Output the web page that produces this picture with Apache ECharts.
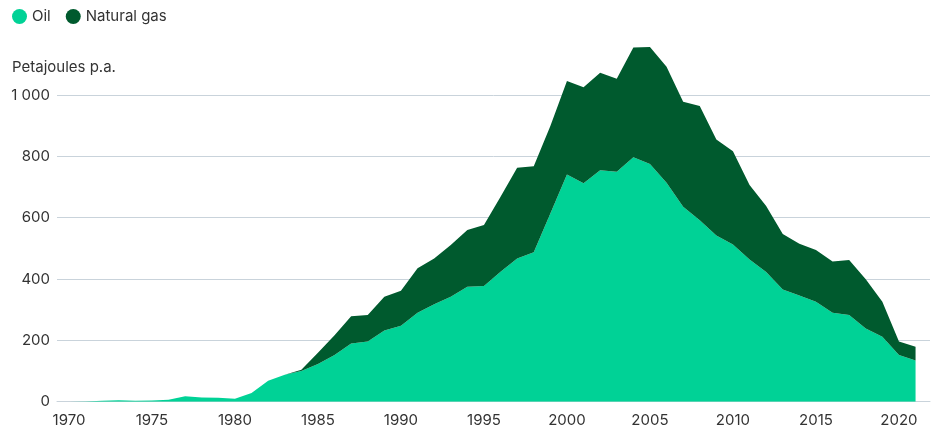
<!DOCTYPE html>
<html>
<head>
<meta charset="utf-8">
<script src="https://cdn.jsdelivr.net/npm/echarts@6/dist/echarts.min.js"></script>
<style>
  html, body { margin: 0; padding: 0; background: #fff; }
  #chart { width: 933px; height: 432px; }
</style>
</head>
<body>
<div id="chart"></div>
<script>
// years 1970..2021
var years = [];
for (var y = 1970; y <= 2021; y++) years.push(y);

// Petajoules p.a.
var oil = [0, 1, 3, 5, 3, 4, 6, 18, 14, 13, 10, 28, 68, 88, 100,
  123, 152, 190, 196, 232, 248, 290, 318, 342, 375,
  377, 424, 467, 487, 614, 741, 712, 755, 750, 797,
  775, 714, 636, 592, 542, 513, 464, 423, 366, 346,
  326, 290, 283, 239, 212, 152, 134];
var gas = [0, 0, 0, 0, 0, 0, 0, 0, 0, 0, 0, 0, 0, 0, 4,
  37, 65, 89, 87, 110, 114, 145, 149, 169, 185,
  199, 244, 296, 281, 285, 305, 313, 318, 303, 358,
  382, 378, 342, 372, 313, 304, 243, 215, 181, 169,
  169, 167, 179, 160, 114, 44, 45];

var tickYears = [1970, 1975, 1980, 1985, 1990, 1995, 2000, 2005, 2010, 2015, 2020];

var textColor = '#333';
var gridColor = '#c9d3db';
var font = 'Inter';

// value first, year second: the stack takes the first value column,
// so with a value x axis it has to be the petajoules
function rows(vals) {
  return years.map(function (yr, i) { return [vals[i], yr]; });
}

var chart = echarts.init(document.getElementById('chart'));

var option = {
  animation: false,
  textStyle: { fontFamily: font },
  legend: {
    left: 12,
    top: 9,
    padding: 0,
    itemGap: 15,
    itemWidth: 15,
    itemHeight: 15,
    icon: 'circle',
    textStyle: { fontFamily: font, fontSize: 15, color: textColor },
    data: ['Oil', 'Natural gas']
  },
  title: {
    text: 'Petajoules p.a.',
    left: 12,
    top: 60,
    padding: 0,
    textStyle: { fontFamily: font, fontSize: 15, fontWeight: 'normal', color: textColor }
  },
  grid: { left: 57, right: 3, top: 33.7, bottom: 30.3 },
  xAxis: {
    type: 'value',
    min: 1969.28,
    max: 2021.87,
    axisLine: { show: true, lineStyle: { color: gridColor, width: 1 } },
    axisTick: { show: false },
    splitLine: { show: false },
    axisLabel: {
      customValues: tickYears,
      margin: 11,
      color: textColor,
      fontFamily: font,
      fontSize: 15,
      formatter: function (v) { return String(v); }
    }
  },
  yAxis: {
    type: 'value',
    min: 0,
    max: 1200,
    interval: 200,
    axisLine: { show: false },
    axisTick: { show: false },
    splitLine: { show: true, showMaxLine: false, lineStyle: { color: gridColor, width: 1 } },
    axisLabel: {
      showMaxLabel: false,
      margin: 7,
      color: textColor,
      fontFamily: font,
      fontSize: 15,
      formatter: function (v) {
        return String(v).replace(/\B(?=(\d{3})+(?!\d))/g, ' ');
      }
    }
  },
  series: [
    {
      name: 'Oil',
      type: 'line',
      stack: 'total',
      encode: { x: 1, y: 0 },
      symbol: 'none',
      lineStyle: { width: 0 },
      itemStyle: { color: '#00d296' },
      areaStyle: { color: '#00d296', opacity: 1 },
      data: rows(oil)
    },
    {
      name: 'Natural gas',
      type: 'line',
      stack: 'total',
      encode: { x: 1, y: 0 },
      symbol: 'none',
      lineStyle: { width: 0 },
      itemStyle: { color: '#005a2e' },
      areaStyle: { color: '#005a2e', opacity: 1 },
      data: rows(gas)
    }
  ]
};

chart.setOption(option);
window.addEventListener('resize', function () { chart.resize(); });
</script>
</body>
</html>
